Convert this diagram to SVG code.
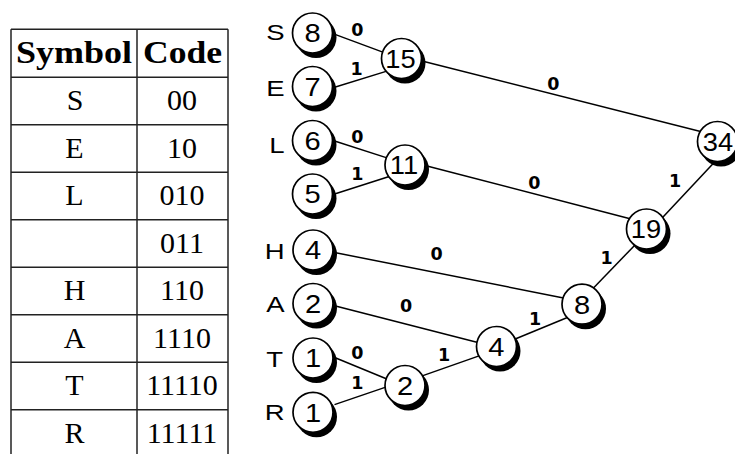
<svg xmlns="http://www.w3.org/2000/svg" width="735" height="454" viewBox="0 0 735 454">
<style>
.tl{stroke:#222;stroke-width:1.5;fill:none}
.th{font-family:"Liberation Serif",serif;font-weight:bold;font-size:32px;text-anchor:middle;fill:#000}
.td{font-family:"Liberation Serif",serif;font-size:30px;text-anchor:middle;fill:#000}
.edge{stroke:#000;stroke-width:1.5;fill:none}
.el{font-family:"DejaVu Sans",sans-serif;font-weight:bold;font-size:17.5px;text-anchor:middle;fill:#000}
.sh{fill:#000}
.nc{fill:#fff;stroke:#000;stroke-width:1.7}
.nt{font-family:"Liberation Sans",Arial,sans-serif;font-size:26px;text-anchor:middle;fill:#000}
.lt{font-family:"Liberation Sans",Arial,sans-serif;font-size:22px;text-anchor:end;fill:#000}
</style>
<defs>
<g id="node"><circle class="sh" cx="3.5" cy="4.5" r="20.5"/><circle class="nc" cx="0" cy="0" r="20"/></g>
</defs>
<rect width="735" height="454" fill="#fff"/>
<g id="table">
<line class="tl" x1="11" y1="29.3" x2="228" y2="29.3"/>
<line class="tl" x1="11" y1="29.3" x2="11" y2="454"/>
<line class="tl" x1="137" y1="29.3" x2="137" y2="454"/>
<line class="tl" x1="228" y1="29.3" x2="228" y2="454"/>
<line class="tl" x1="11" y1="77.3" x2="228" y2="77.3"/>
<line class="tl" x1="11" y1="124.8" x2="228" y2="124.8"/>
<line class="tl" x1="11" y1="172.3" x2="228" y2="172.3"/>
<line class="tl" x1="11" y1="219.8" x2="228" y2="219.8"/>
<line class="tl" x1="11" y1="267.3" x2="228" y2="267.3"/>
<line class="tl" x1="11" y1="314.8" x2="228" y2="314.8"/>
<line class="tl" x1="11" y1="362.3" x2="228" y2="362.3"/>
<line class="tl" x1="11" y1="409.8" x2="228" y2="409.8"/>
<text class="th" x="74" y="62.6" textLength="116" lengthAdjust="spacingAndGlyphs">Symbol</text>
<text class="th" x="182.5" y="62.6" textLength="79" lengthAdjust="spacingAndGlyphs">Code</text>
<text class="td" x="75" y="110.3">S</text><text class="td" x="182" y="110.3">00</text>
<text class="td" x="74.5" y="157.8">E</text><text class="td" x="182" y="157.8">10</text>
<text class="td" x="74.5" y="205.3">L</text><text class="td" x="182" y="205.3">010</text>
<text class="td" x="182" y="252.8">011</text>
<text class="td" x="74.5" y="300.3">H</text><text class="td" x="182" y="300.3">110</text>
<text class="td" x="74.5" y="347.8">A</text><text class="td" x="182" y="347.8">1110</text>
<text class="td" x="74.5" y="395.3">T</text><text class="td" x="182" y="395.3">11110</text>
<text class="td" x="74.5" y="442.8">R</text><text class="td" x="182" y="442.8">11111</text>
</g>
<g id="connectors">
<line class="edge" x1="332.9" y1="33.6" x2="385.5" y2="53.1"/>
<line class="edge" x1="333" y1="87.8" x2="388.5" y2="70.6"/>
<line class="edge" x1="421" y1="60.7" x2="705.5" y2="132.7"/>
<line class="edge" x1="333" y1="140.5" x2="388.5" y2="158.4"/>
<line class="edge" x1="333" y1="194.5" x2="390" y2="176.2"/>
<line class="edge" x1="426" y1="165.7" x2="632" y2="219.3"/>
<line class="edge" x1="716" y1="160.4" x2="660" y2="220.3"/>
<line class="edge" x1="334.5" y1="252.5" x2="566" y2="298.4"/>
<line class="edge" x1="334.5" y1="305.7" x2="478.8" y2="342.7"/>
<line class="edge" x1="334.6" y1="357.5" x2="388.7" y2="379.8"/>
<line class="edge" x1="334.5" y1="404.6" x2="388" y2="386.4"/>
<line class="edge" x1="422.9" y1="375.6" x2="480.5" y2="355.4"/>
<line class="edge" x1="514.6" y1="339.2" x2="570.4" y2="316.2"/>
<line class="edge" x1="593" y1="288.5" x2="636" y2="243.9"/>
<text class="el" x="357.3" y="36.4">0</text>
<text class="el" x="356.7" y="74.7">1</text>
<text class="el" x="553.3" y="89.7">0</text>
<text class="el" x="357.3" y="143.1">0</text>
<text class="el" x="357.3" y="180.4">1</text>
<text class="el" x="534.3" y="188.7">0</text>
<text class="el" x="675" y="187.4">1</text>
<text class="el" x="436.7" y="259.7">0</text>
<text class="el" x="406" y="312.4">0</text>
<text class="el" x="357.3" y="358.7">0</text>
<text class="el" x="357.3" y="388.7">1</text>
<text class="el" x="444" y="361.4">1</text>
<text class="el" x="535" y="324.7">1</text>
<text class="el" x="606.7" y="263.7">1</text>
</g>
<g id="leaf-S"><use href="#node" x="312.5" y="33"/><text class="nt" transform="translate(312.5,42.3) scale(1.12,1)">8</text><text class="lt" transform="translate(284.5,39.5) scale(1.25,1)">S</text></g>
<g id="leaf-E"><use href="#node" x="312.5" y="86.5"/><text class="nt" transform="translate(312.5,95.8) scale(1.12,1)">7</text><text class="lt" transform="translate(284.5,96) scale(1.25,1)">E</text></g>
<g id="leaf-L"><use href="#node" x="312.5" y="140.5"/><text class="nt" transform="translate(312.5,149.8) scale(1.12,1)">6</text><text class="lt" transform="translate(284.5,152.5) scale(1.25,1)">L</text></g>
<g id="leaf-space"><use href="#node" x="312.5" y="194"/><text class="nt" transform="translate(312.5,203.3) scale(1.12,1)">5</text></g>
<g id="leaf-H"><use href="#node" x="313" y="250"/><text class="nt" transform="translate(313,259.3) scale(1.12,1)">4</text><text class="lt" transform="translate(284.5,258.5) scale(1.25,1)">H</text></g>
<g id="leaf-A"><use href="#node" x="313" y="303.5"/><text class="nt" transform="translate(313,312.8) scale(1.12,1)">2</text><text class="lt" transform="translate(284.5,311.5) scale(1.25,1)">A</text></g>
<g id="leaf-T"><use href="#node" x="313" y="358"/><text class="nt" transform="translate(313,367.3) scale(1.12,1)">1</text><text class="lt" transform="translate(283,366.5) scale(1.25,1)">T</text></g>
<g id="leaf-R"><use href="#node" x="313" y="412.3"/><text class="nt" transform="translate(313,421.6) scale(1.12,1)">1</text><text class="lt" transform="translate(284.5,419.5) scale(1.25,1)">R</text></g>
<g id="node-15"><use href="#node" x="401.5" y="58.5"/><text class="nt" transform="translate(400.5,67.8) scale(1.05,1)">15</text></g>
<g id="node-11"><use href="#node" x="405" y="165"/><text class="nt" transform="translate(404,174.3) scale(1.05,1)">11</text></g>
<g id="node-2"><use href="#node" x="405" y="385.5"/><text class="nt" transform="translate(405,394.8) scale(1.12,1)">2</text></g>
<g id="node-4"><use href="#node" x="496.5" y="346.5"/><text class="nt" transform="translate(496.3,355.8) scale(1.12,1)">4</text></g>
<g id="node-8"><use href="#node" x="582" y="304.2"/><text class="nt" transform="translate(582,313.5) scale(1.12,1)">8</text></g>
<g id="node-19"><use href="#node" x="646.5" y="229"/><text class="nt" transform="translate(646,238.3) scale(1.05,1)">19</text></g>
<g id="node-34"><use href="#node" x="717.5" y="141.5"/><text class="nt" transform="translate(718,150.8) scale(1.05,1)">34</text></g>
</svg>
